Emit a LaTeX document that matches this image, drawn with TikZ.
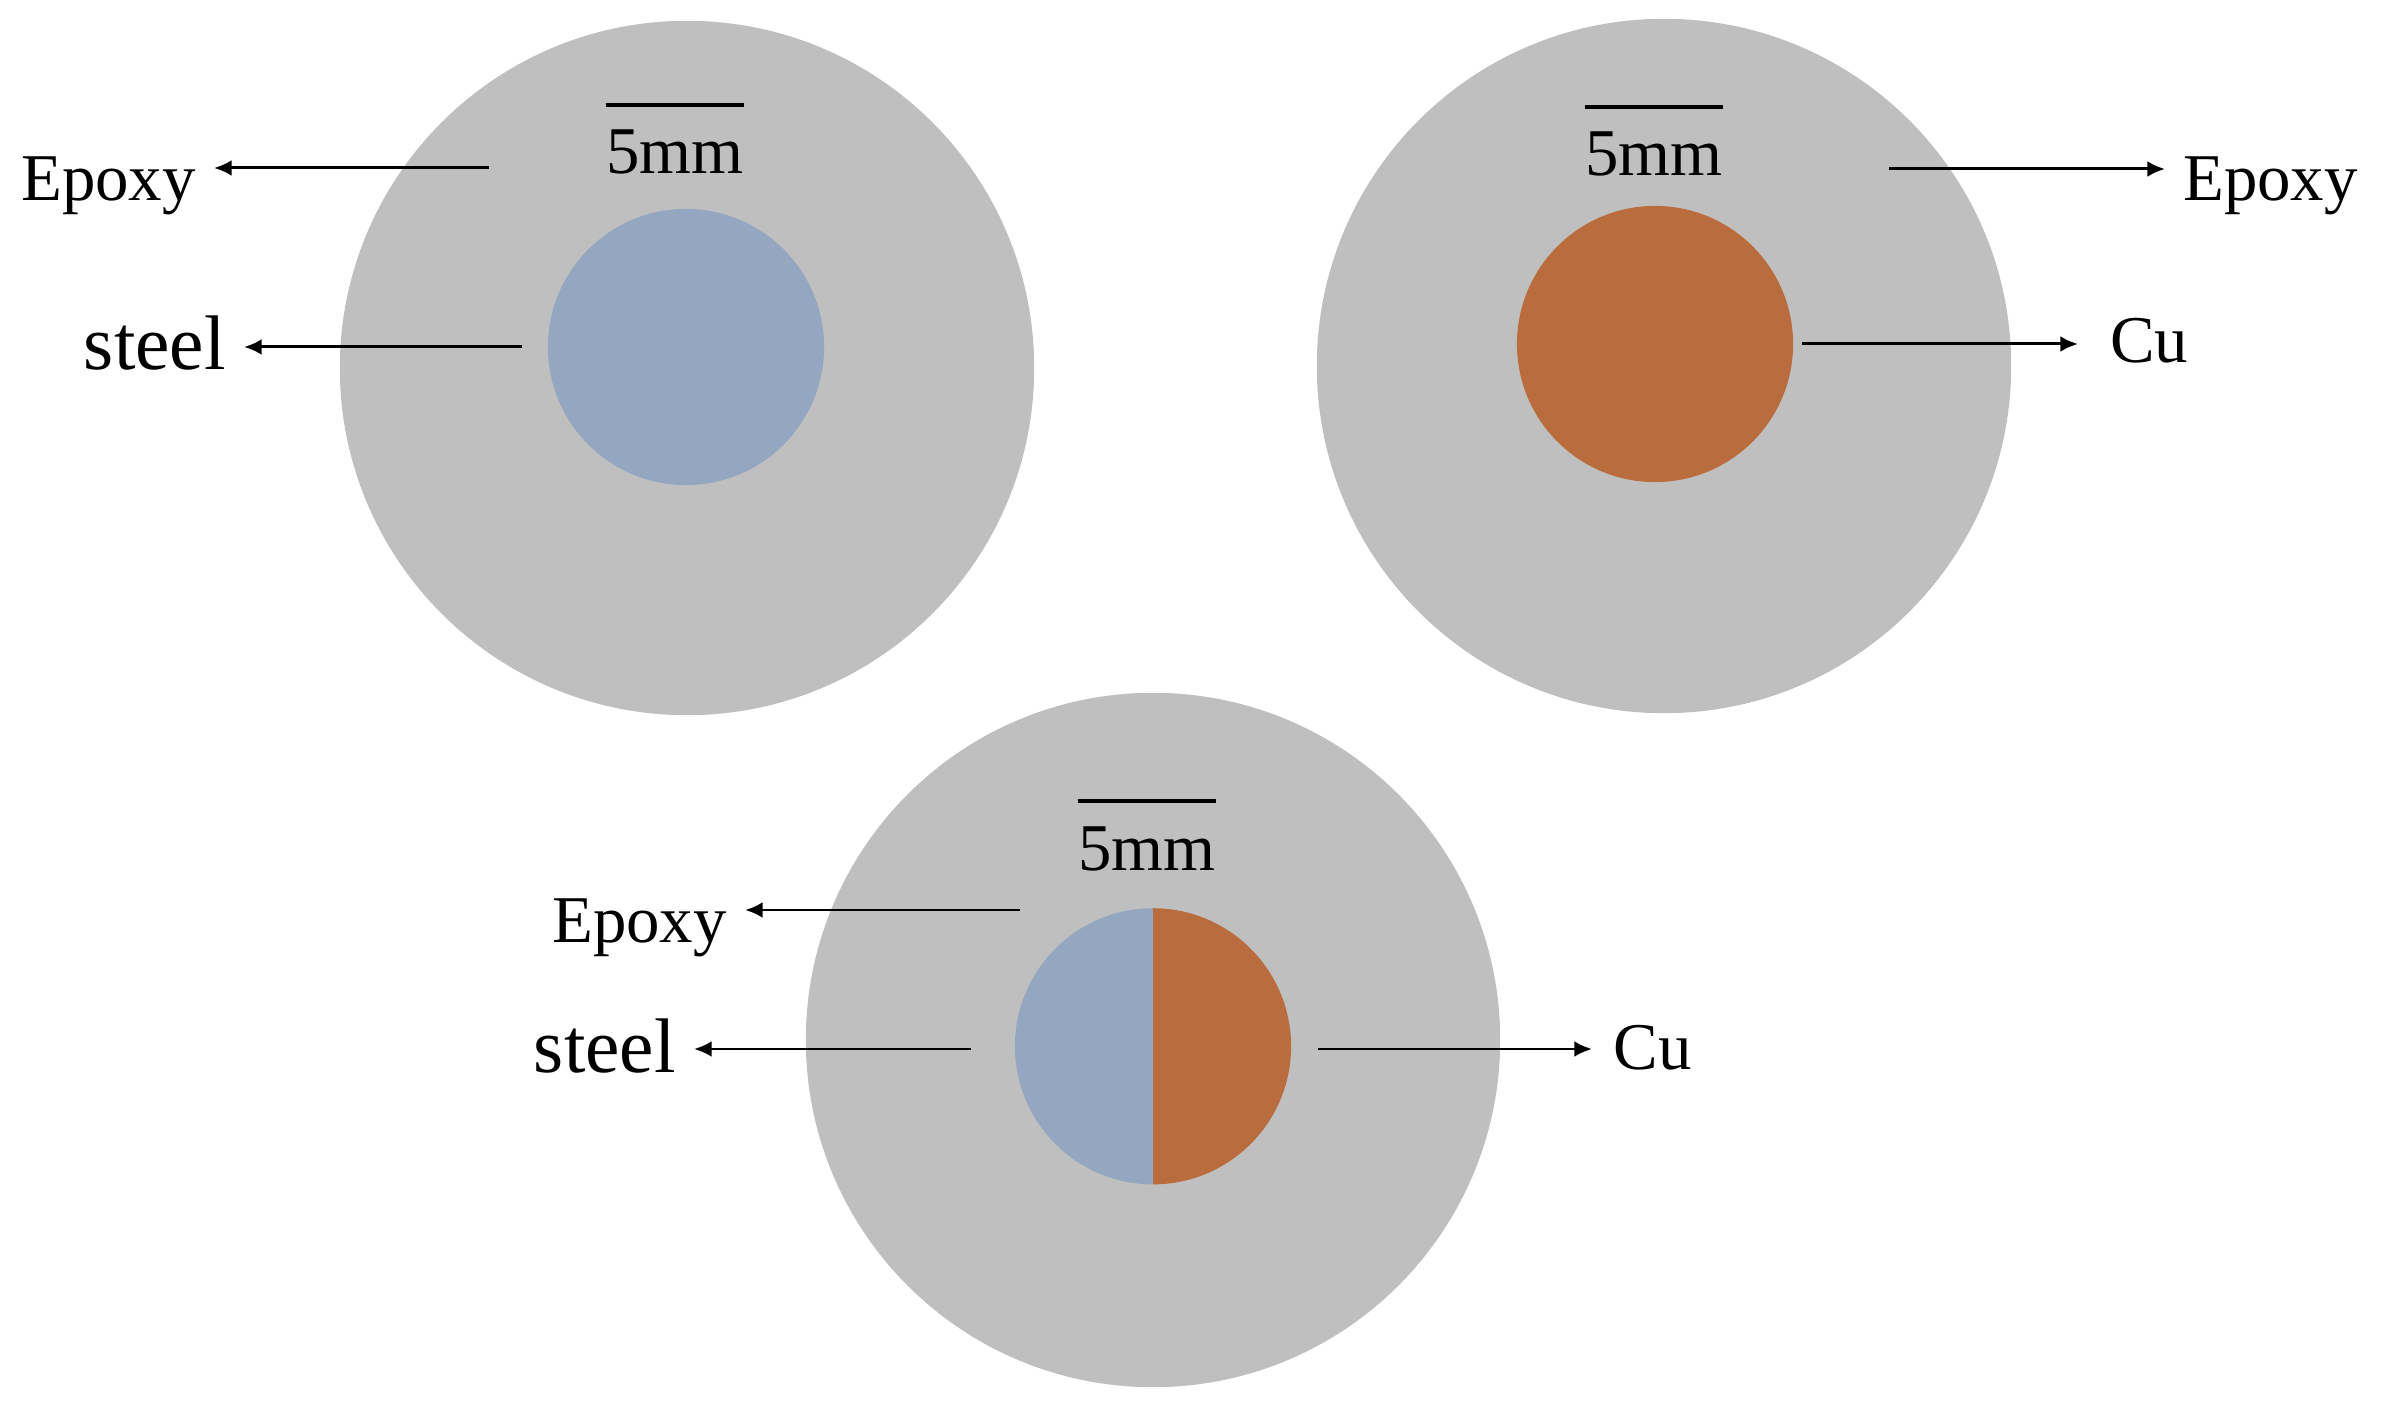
\documentclass[tikz,border=0pt]{standalone}
\usepackage{fontspec}
\setmainfont{Liberation Serif}
\usetikzlibrary{arrows.meta}

\definecolor{epoxygray}{RGB}{191,191,191}
\definecolor{steelblue}{RGB}{149,166,192}
\definecolor{copper}{RGB}{185,108,61}

\begin{document}
\begin{tikzpicture}[> = {Latex[length=5pt,width=4.5pt]}, x=0.01cm, y=-0.01cm]
    \tikzset{
      disc/.style={circle, fill=epoxygray, minimum size=6.94cm, inner sep=0},
      core/.style={circle, minimum size=2.76cm, inner sep=0},
      lbl/.style={inner xsep=5pt, inner ysep=0, font=\fontsize{19}{22}\selectfont},
      biglbl/.style={lbl, font=\fontsize{22}{26}\selectfont},
      mm/.style={inner sep=0, font=\fontsize{19}{22}\selectfont},
      bar/.style={line width=1.2pt},
      arr/.style={->, line width=0.85pt},
    }
    \useasboundingbox (0,0) rectangle (2394,1413);

    % steel sample
    \node [disc] (d1) at (687,368) {};
    \node [core, fill=steelblue] (c1) at (686,347) {};
    \node [mm, anchor=base] (s1) at (675,174) {5mm};
    \draw [bar] ([yshift=7pt]s1.north west) -- ([yshift=7pt]s1.north east);
    \node [lbl, anchor=base east] (ep1) at (214,201) {Epoxy};
    \node [biglbl, anchor=base east] (st1) at (244,370) {steel};
    \coordinate (ep1s) at (489,168);
    \coordinate (st1s) at (522,347);
    \draw [arr] (ep1s) -- (ep1s -| ep1.east);
    \draw [arr] (st1s) -- (st1s -| st1.east);

    % Cu sample
    \node [disc] (d2) at (1664,366) {};
    \node [core, fill=copper] (c2) at (1655,344) {};
    \node [mm, anchor=base] (s2) at (1654,176) {5mm};
    \draw [bar] ([yshift=7pt]s2.north west) -- ([yshift=7pt]s2.north east);
    \node [lbl, anchor=base west] (ep2) at (2165,201) {Epoxy};
    \node [lbl, inner xsep=9pt, anchor=base west] (cu2) at (2078,363) {Cu};
    \coordinate (ep2s) at (1889,169);
    \coordinate (cu2s) at (1802,344);
    \draw [arr] (ep2s) -- (ep2s -| ep2.west);
    \draw [arr] (cu2s) -- (cu2s -| cu2.west);

    % steel + Cu sample
    \node [disc] (d3) at (1153,1040) {};
    \node [core] (c3) at (1153,1047) {};
    \fill [steelblue] (c3.north) arc [start angle=90, end angle=270, radius=1.38cm] -- cycle;
    \fill [copper] (c3.north) arc [start angle=90, end angle=-90, radius=1.38cm] -- cycle;
    \node [mm, anchor=base] (s3) at (1147,870) {5mm};
    \draw [bar] ([yshift=7pt]s3.north west) -- ([yshift=7pt]s3.north east);
    \node [lbl, anchor=base east] (ep3) at (745,942) {Epoxy};
    \node [biglbl, anchor=base east] (st3) at (694,1072) {steel};
    \node [lbl, inner xsep=6pt, anchor=base west] (cu3) at (1592,1069) {Cu};
    \coordinate (ep3s) at (1020,910);
    \coordinate (st3s) at (971,1049);
    \coordinate (cu3s) at (1318,1049);
    \draw [arr] (ep3s) -- (ep3s -| ep3.east);
    \draw [arr] (st3s) -- (st3s -| st3.east);
    \draw [arr] (cu3s) -- (cu3s -| cu3.west);

  \end{tikzpicture}
\end{document}
